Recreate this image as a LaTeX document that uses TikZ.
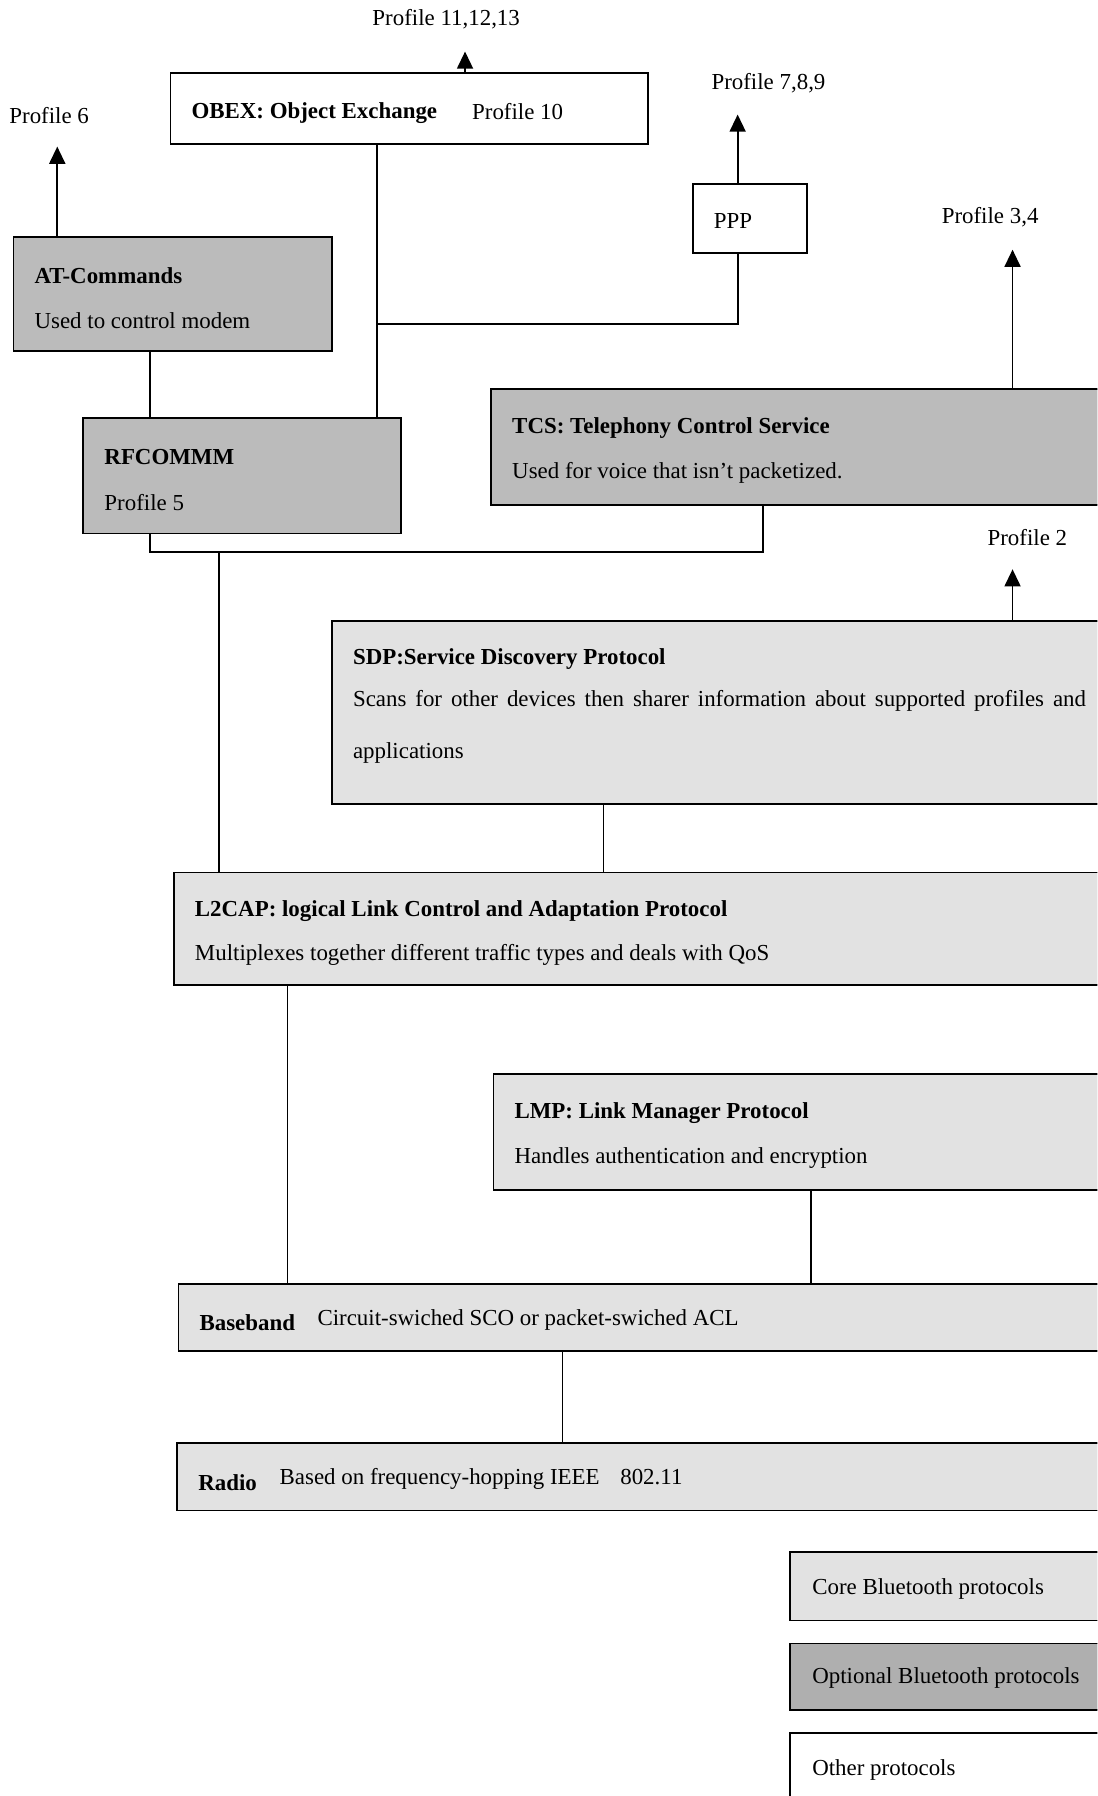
\documentclass[tikz,border=0pt]{standalone}
\usepackage{fontspec}
\setmainfont{Liberation Serif}
\usetikzlibrary{arrows.meta}
\definecolor{optfill}{HTML}{BBBBBB}
\definecolor{legoptfill}{HTML}{AFAFAF}
\definecolor{corefill}{HTML}{E2E2E2}
\tikzset{
  box/.style={draw=black, line width=1.6pt, inner sep=0pt, anchor=north west},
  optbox/.style={box, fill=optfill},
  corebox/.style={box, fill=corefill},
  othbox/.style={box, fill=white},
  txt/.style={anchor=west, inner sep=0pt, yshift=-2pt, font=\fontsize{20}{24}\selectfont},
  btxt/.style={txt, font=\fontsize{20}{24}\selectfont\bfseries},
  conn/.style={line width=1.5pt},
  arr/.style={line width=1.5pt, -{Triangle[length=15pt,width=14pt]}},
}
\begin{document}
\begin{tikzpicture}[x=1pt,y=-1pt]
\clip (0,0) rectangle (958,1568);
\fill[white] (0,0) rectangle (958,1568);

% boxes
\node[othbox, minimum width=417pt, minimum height=62pt] (obex) at (148,63) {};
\node[othbox, minimum width=100pt, minimum height=60pt] (ppp) at (604,160) {};
\node[optbox, minimum width=278pt, minimum height=100pt] (at) at (11,206) {};
\node[optbox, minimum width=277pt, minimum height=101pt] (rfc) at (72,364) {};
\node[optbox, minimum width=542pt, minimum height=101pt] (tcs) at (428,339) {};
\node[corebox, minimum width=681pt, minimum height=160pt] (sdp) at (289,541) {};
\node[corebox, minimum width=819pt, minimum height=98pt] (l2cap) at (151,761) {};
\node[corebox, minimum width=540pt, minimum height=101pt] (lmp) at (430,937) {};
\node[corebox, minimum width=815pt, minimum height=59pt] (bb) at (155,1120) {};
\node[corebox, minimum width=816pt, minimum height=59pt] (radio) at (154,1259) {};
\node[corebox, minimum width=281pt, minimum height=60pt] (lcore) at (689,1354) {};
\node[box, fill=legoptfill, minimum width=281pt, minimum height=58pt] (lopt) at (689,1434) {};
\node[othbox, minimum width=281pt, minimum height=68pt] (loth) at (689,1512) {};

% arrow tips and junctions
\coordinate (t1213) at (406,45);
\coordinate (t6) at (50,128);
\coordinate (t789) at (644,100);
\coordinate (t34) at (884,218);
\coordinate (t2) at (884,497);
\coordinate (jobex) at (329,283);
\coordinate (jppp) at (644,283);
\coordinate (jrfc) at (131,482);
\coordinate (jtcs) at (666,482);
\coordinate (jl2) at (191,482);

% profile labels
\node[txt] (p1213) at (325,15) {Profile 11,12,13};
\node[txt] (p6) at (8,99) {Profile 6};
\node[txt] (p789) at (621,71) {Profile 7,8,9};
\node[txt] (p34) at (822,188) {Profile 3,4};
\node[txt] (p2) at (862,467) {Profile 2};

% arrows
\draw[arr] (obex.north -| t1213) -- (t1213);
\draw[arr] (at.north -| t6) -- (t6);
\draw[arr] (ppp.north -| t789) -- (t789);
\draw[arr] (tcs.north -| t34) -- (t34);
\draw[arr] (sdp.north -| t2) -- (t2);

% connectors
\draw[conn] (at.south -| jrfc) -- (rfc.north -| jrfc);
\draw[conn] (obex.south -| jobex) -- (rfc.north -| jobex);
\draw[conn] (jobex) -- (jppp) -- (ppp.south -| jppp);
\draw[conn] (rfc.south -| jrfc) -- (jrfc) -- (jtcs) -- (tcs.south -| jtcs);
\draw[conn] (jl2) -- (l2cap.north -| jl2);
\coordinate (xsdp) at (527,0);
\draw[conn] (sdp.south -| xsdp) -- (l2cap.north -| xsdp);
\coordinate (xl2) at (251,0);
\draw[conn] (l2cap.south -| xl2) -- (bb.north -| xl2);
\coordinate (xlmp) at (708,0);
\draw[conn] (lmp.south -| xlmp) -- (bb.north -| xlmp);
\coordinate (xbb) at (491,0);
\draw[conn] (bb.south -| xbb) -- (radio.north -| xbb);

% box texts
\node[btxt] (obext) at (167,97) {OBEX: Object Exchange};
\node[txt] (obexp) at (412,95) {Profile 10};
\node[txt] (pppt) at (623,191) {PPP};
\node[btxt] (att) at (30,239) {AT-Commands};
\node[txt] (atd) at (30,278) {Used to control modem};
\node[btxt] (rfct) at (91,397) {RFCOMMM};
\node[txt] (rfcd) at (91,437) {Profile 5};
\node[btxt] (tcst) at (447,372) {TCS: Telephony Control Service};
\node[txt] (tcsd) at (447,411) {Used for voice that isn’t packetized.};
\node[btxt] (sdpt) at (308,573) {SDP:Service Discovery Protocol};
\node[txt] (sdpd) at (308,610) {\makebox[640pt][s]{Scans for other devices then sharer information about supported profiles and}};
\node[txt] (sdpe) at (308,655) {applications};
\node[btxt] (l2t) at (170,793) {L2CAP: logical Link Control and Adaptation Protocol};
\node[txt] (l2d) at (170,832) {Multiplexes together different traffic types and deals with QoS};
\node[btxt] (lmpt) at (449,970) {LMP: Link Manager Protocol};
\node[txt] (lmpd) at (449,1009) {Handles authentication and encryption};
\node[btxt] (bbt) at (174,1153) {Baseband};
\node[txt] (bbd) at (277,1150) {Circuit-swiched SCO or packet-swiched ACL};
\node[btxt] (radiot) at (173,1292) {Radio};
\node[txt] (radiod) at (244,1289) {Based on frequency-hopping IEEE\hspace{18pt}802.11};
\node[txt] (lcoret) at (709,1385) {Core Bluetooth protocols};
\node[txt] (loptt) at (709,1463) {Optional Bluetooth protocols};
\node[txt] (lotht) at (709,1543) {Other protocols};
\end{tikzpicture}
\end{document}
